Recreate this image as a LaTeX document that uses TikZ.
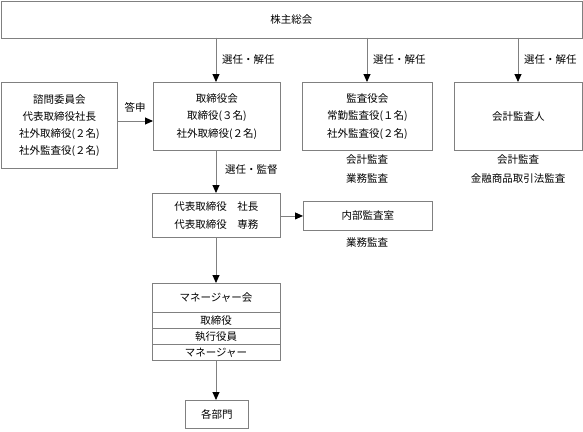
\documentclass[tikz,border=0pt]{standalone}
\usepackage{fontspec}
\setmainfont{Noto Sans CJK JP}
\usetikzlibrary{arrows.meta}
\definecolor{linegray}{HTML}{808080}
\begin{document}
\begin{tikzpicture}[x=1pt,y=-1pt,
  font=\fontsize{10.5}{17.5}\selectfont,
  box/.style={draw=linegray,line width=0.9pt,fill=white},
  conn/.style={draw=linegray,line width=0.9pt,-{Triangle[width=7pt,length=8pt,color=black]}},
  lbl/.style={inner sep=0pt},
  ml/.style={align=center,inner sep=0pt,font=\fontsize{10.5}{19}\selectfont}]
\useasboundingbox (0,0) rectangle (583,431);
% top
\node[box,minimum width=581pt,minimum height=37pt,anchor=north west] (gm) at (0.5,0.5) {株主総会};
% row 1 boxes
\node[box,minimum width=116pt,minimum height=86pt,anchor=north west,align=center,font=\fontsize{10.5}{16.8}\selectfont] (adv) at (1,82) {諮問委員会\\代表取締役社長\\社外取締役(２名)\\社外監査役(２名)};
\node[box,minimum width=127pt,minimum height=68pt,anchor=north west,align=center] (bod) at (153,82) {取締役会\\取締役(３名)\\社外取締役(２名)};
\node[box,minimum width=130pt,minimum height=68pt,anchor=north west,align=center] (kan) at (302,82) {監査役会\\常勤監査役(１名)\\社外監査役(２名)};
\node[box,minimum width=128pt,minimum height=68pt,anchor=north west] (aud) at (454,82) {会計監査人};
% coordinates on top box bottom
\coordinate (t1) at (216,37.5);
\coordinate (t2) at (367,37.5);
\coordinate (t3) at (518,37.5);
\draw[conn] (t1) -- (t1 |- bod.north);
\draw[conn] (t2) -- (t2 |- kan.north);
\draw[conn] (t3) -- (t3 |- aud.north);
\node[lbl,anchor=west] (l1) at (222,60) {選任・解任};
\node[lbl,anchor=west] (l2) at (373,60) {選任・解任};
\node[lbl,anchor=west] (l3) at (524,60) {選任・解任};
% advisory arrow
\draw[conn] (adv.east |- 0,121) -- (bod.west |- 0,121);
\node[lbl] (ts) at (135,107) {答申};
% under boxes
\node[ml,anchor=north] (kanl) at (367,154) {会計監査\\業務監査};
\node[ml,anchor=north] (audl) at (518,154) {会計監査\\金融商品取引法監査};
% representative directors
\node[box,minimum width=128pt,minimum height=44pt,anchor=north west,align=center] (rep) at (152,193) {代表取締役\quad 社長\\代表取締役\quad 専務};
\draw[conn] (bod.south -| 216,0) -- (rep.north -| 216,0);
\node[lbl,anchor=west] (sk) at (225,170) {選任・監督};
\node[box,minimum width=129pt,minimum height=29pt,anchor=north west] (ia) at (303,201) {内部監査室};
\draw[conn] (rep.east |- ia.west) -- (ia.west);
\node[lbl] (ial) at (367,243) {業務監査};
% manager meeting
\node[box,minimum width=128pt,minimum height=77pt,anchor=north west] (mgr) at (152,283) {};
\draw[linegray,line width=0.9pt] (152,312) -- (280,312) (152,328) -- (280,328) (152,344) -- (280,344);
\node[lbl] (mh) at (216,298) {マネージャー会};
\node[lbl] (m1) at (216,320.5) {取締役};
\node[lbl] (m2) at (216,336.5) {執行役員};
\node[lbl] (m3) at (216,352.5) {マネージャー};
\draw[conn] (rep.south -| 216,0) -- (mgr.north -| 216,0);
\node[box,minimum width=63pt,minimum height=28pt,anchor=north west] (dep) at (185,400) {各部門};
\draw[conn] (mgr.south -| 216,0) -- (dep.north -| 216,0);
\end{tikzpicture}
\end{document}
